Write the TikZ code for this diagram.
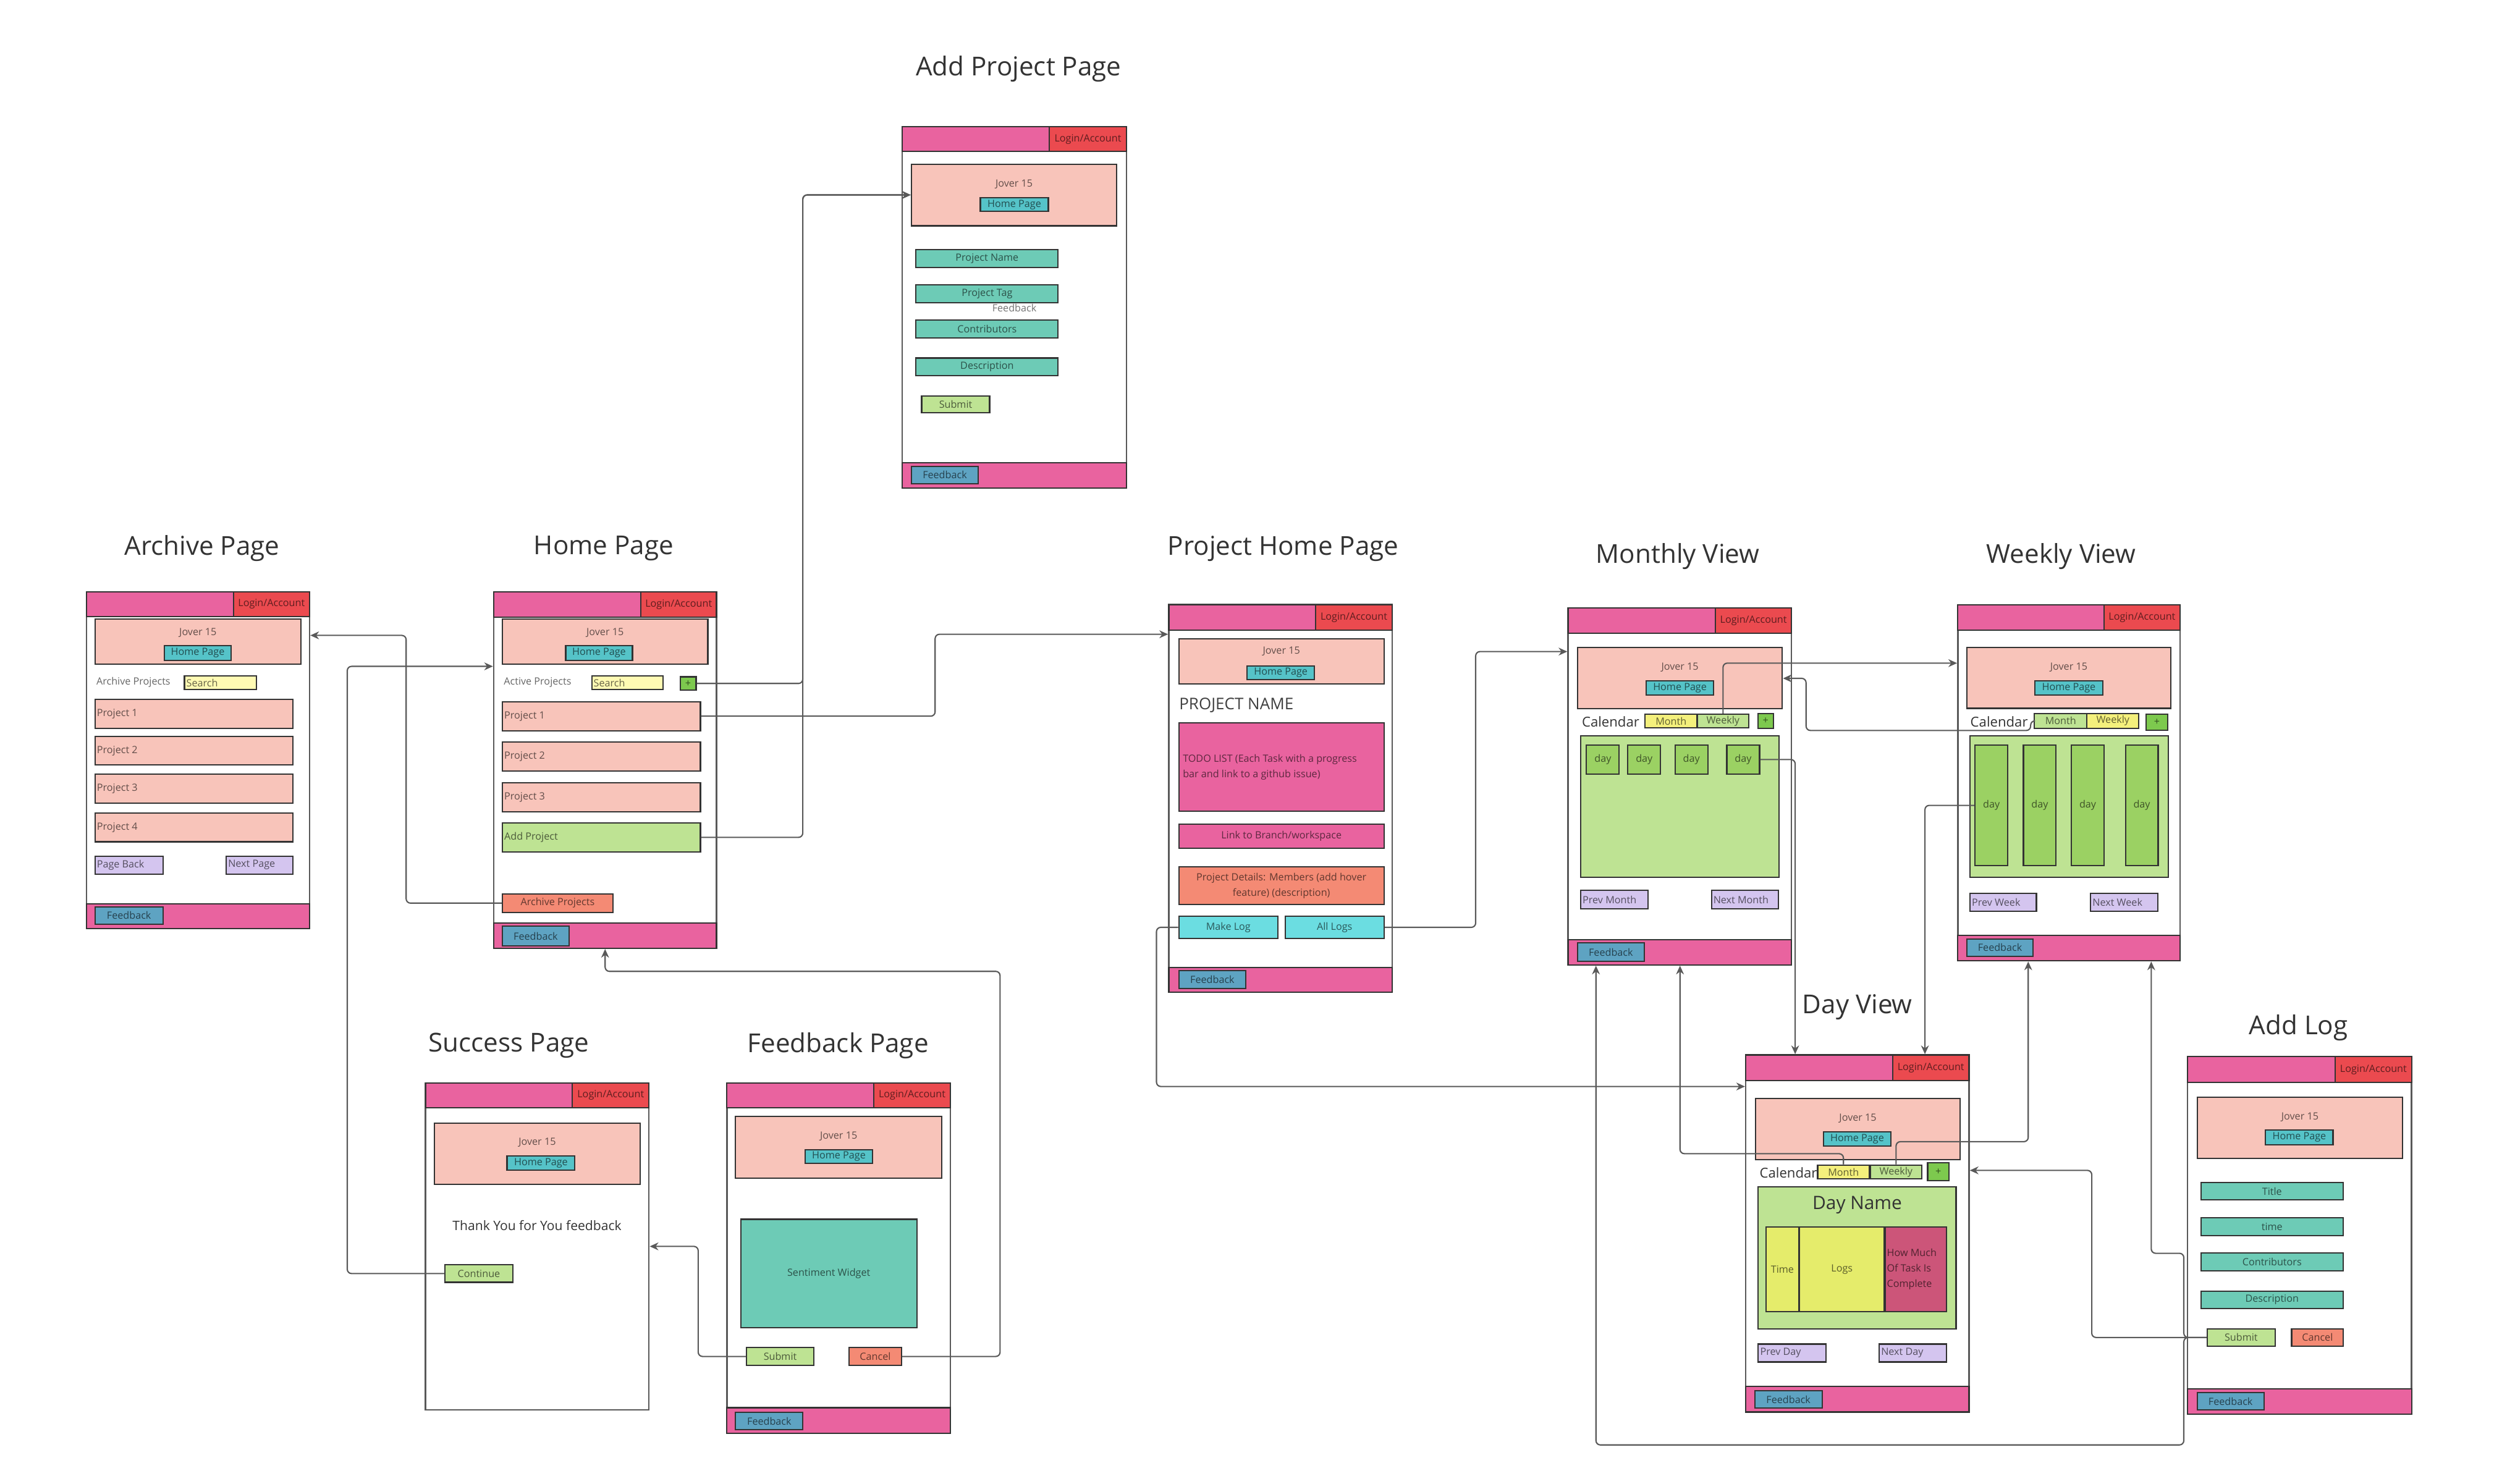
\documentclass[tikz,border=0pt]{standalone}
\usepackage{fontspec}
\setmainfont{Open Sans}
\usetikzlibrary{arrows.meta}

\definecolor{hdrpink}{HTML}{E9639F}
\definecolor{loginred}{HTML}{EB4A4F}
\definecolor{joverpink}{HTML}{F8C4BA}
\definecolor{hometeal}{HTML}{55C3C8}
\definecolor{searchyel}{HTML}{FFFAB3}
\definecolor{plusgreen}{HTML}{7DC94E}
\definecolor{lightgreen}{HTML}{BEE393}
\definecolor{coral}{HTML}{F48A74}
\definecolor{fbblue}{HTML}{5EA3C2}
\definecolor{lavender}{HTML}{D4C5EF}
\definecolor{fieldteal}{HTML}{6DCBB6}
\definecolor{logcyan}{HTML}{6BDDE1}
\definecolor{daygreen}{HTML}{9BD163}
\definecolor{monthyel}{HTML}{F4F07C}
\definecolor{logyel}{HTML}{E5EC6B}
\definecolor{rose}{HTML}{CC5579}

\tikzset{
  wh/.style 2 args={minimum width=#1*0.02596cm,minimum height=#2*0.02596cm},
  pageframe/.style={draw=black!65,line width=0.7pt,fill=white,inner sep=0pt},
  uibox/.style={draw=black!80,line width=0.6pt,inner sep=0pt,
    font=\fontsize{4.6}{5.5}\selectfont,text=black,text opacity=0.6},
  uitext/.style={inner sep=1pt,font=\fontsize{4.6}{5.5}\selectfont,text=black,text opacity=0.6},
  pagetitle/.style={font=\fontsize{12}{14}\selectfont,text=black!80},
  caltext/.style={inner sep=0pt,font=\fontsize{6.3}{7}\selectfont,text=black!80},
  link/.style={->,draw=black!65,line width=0.6pt,rounded corners=2pt},
  >={Stealth[length=4pt,width=3.6pt]}
}

\begin{document}
\begin{tikzpicture}[x=0.02596cm,y=-0.02596cm]
\useasboundingbox (0,0) rectangle (1568,925);

% Archive Page
\node[pagetitle] at (126,342) {Archive Page};
\node[pageframe,wh={139}{210}] (arFrame) at (123.5,474) {};
\node[uibox,fill=hdrpink,wh={139}{15.5}] (arHead) at (123.5,376.75) {};
\node[uibox,fill=loginred,wh={47.5}{15.5}] (arLogin) at (169.25,376.75) {Login/Account};
\node[uibox,fill=joverpink,wh={128.4}{28.3}] (arJover) at (123.4,400.15) {};
\node[uitext] at (123.4,394.5) {Jover 15};
\node[uibox,fill=hometeal,wh={41.6}{9}] (arHome) at (123.3,407.2) {Home Page};
\node[uitext,anchor=west] at (58.5,425.6) {Archive Projects};
\node[uibox,fill=searchyel,wh={45}{8.8}] (arSearch) at (137.5,425.7) {};
\node[uitext,anchor=west] at (arSearch.west) {Search};
\foreach \i/\y in {1/445.2,2/468.1,3/491.8,4/515.9}{
  \node[uibox,fill=joverpink,wh={123.5}{18}] (arP\i) at (121,\y) {};
  \node[uitext,anchor=west] at (arP\i.west) {Project \i};
}
\node[uibox,fill=lavender,wh={42.4}{11.2}] (arBack) at (80.4,539.4) {};
\node[uitext,anchor=west] at (arBack.west) {Page Back};
\node[uibox,fill=lavender,wh={41.7}{11.2}] (arNext) at (161.9,539.4) {};
\node[uitext,anchor=west] at (arNext.west) {Next Page};
\node[uibox,fill=hdrpink,wh={139}{15.4}] (arFoot) at (123.5,571.3) {};
\node[uibox,fill=fbblue,wh={42.4}{10.7}] (arFb) at (80.4,570.9) {Feedback};

% Home Page
\node[pagetitle] at (376.4,342) {Home Page};
\node[pageframe,wh={138.9}{222.3}] (hmFrame) at (377.25,480.15) {};
\node[uibox,fill=hdrpink,wh={138.9}{15.7}] (hmHead) at (377.25,376.85) {};
\node[uibox,fill=loginred,wh={47.2}{15.7}] (hmLogin) at (423.1,376.85) {Login/Account};
\node[uibox,fill=joverpink,wh={128.1}{28.3}] (hmJover) at (377.25,400.15) {};
\node[uitext] at (377.25,394.5) {Jover 15};
\node[uibox,fill=hometeal,wh={41.6}{9}] (hmHome) at (373.5,407.2) {Home Page};
\node[uitext,anchor=west] at (312.5,425.6) {Active Projects};
\node[uibox,fill=searchyel,wh={44.6}{8.8}] (hmSearch) at (391.2,425.7) {};
\node[uitext,anchor=west] at (hmSearch.west) {Search};
\node[uibox,fill=plusgreen,wh={10}{8.3}] (hmPlus) at (429,426.2) {+};
\foreach \i/\y in {1/446.55,2/471.65,3/497.15}{
  \node[uibox,fill=joverpink,wh={123.5}{18.1}] (hmP\i) at (374.95,\y) {};
  \node[uitext,anchor=west] at (hmP\i.west) {Project \i};
}
\node[uibox,fill=lightgreen,wh={123.5}{18.1}] (hmAdd) at (374.95,522.15) {};
\node[uitext,anchor=west] at (hmAdd.west) {Add Project};
\node[uibox,fill=coral,wh={68.9}{11.5}] (hmArch) at (347.65,563.15) {Archive Projects};
\node[uibox,fill=hdrpink,wh={138.9}{15.7}] (hmFoot) at (377.25,583.45) {};
\node[uibox,fill=fbblue,wh={41.6}{12.1}] (hmFb) at (334,583.65) {Feedback};

% Add Project Page
\node[pagetitle] at (635,43) {Add Project Page};
\node[pageframe,wh={140}{225.2}] (apFrame) at (632.4,191.7) {};
\node[uibox,fill=hdrpink,wh={140}{15.4}] (apHead) at (632.4,86.8) {};
\node[uibox,fill=loginred,wh={48.3}{15.4}] (apLogin) at (678.25,86.8) {Login/Account};
\node[uibox,fill=joverpink,wh={128.1}{38.5}] (apJover) at (632.25,121.55) {};
\node[uitext] at (632.25,114.9) {Jover 15};
\node[uibox,fill=hometeal,wh={42.4}{8.6}] (apHome) at (632.4,127.6) {Home Page};
\foreach \n/\t/\y in {Name/Project Name/161.15,Tag/Project Tag/183.15,Contrib/Contributors/205.15,Desc/Description/228.75}
  \node[uibox,fill=fieldteal,wh={88.6}{11}] (ap\n) at (615.4,\y) {\t};
\node[uitext,text=black!55,text opacity=1] at (632.4,192) {Feedback};
\node[uibox,fill=lightgreen,wh={42.4}{10.6}] (apSubmit) at (595.8,252.2) {Submit};
\node[uibox,fill=hdrpink,wh={140}{15.8}] (apFoot) at (632.4,296.4) {};
\node[uibox,fill=fbblue,wh={41.7}{10.6}] (apFb) at (589.05,296.2) {Feedback};

% Project Home Page
\node[pagetitle] at (800,342) {Project Home Page};
\node[pageframe,wh={139.3}{241.7}] (phFrame) at (798.35,497.85) {};
\node[uibox,fill=hdrpink,wh={139.3}{15.8}] (phHead) at (798.35,384.9) {};
\node[uibox,fill=loginred,wh={47.8}{15.8}] (phLogin) at (844.1,384.9) {Login/Account};
\node[uibox,fill=joverpink,wh={128}{28.4}] (phJover) at (798.9,412.4) {};
\node[uitext] at (798.9,406.3) {Jover 15};
\node[uibox,fill=hometeal,wh={42}{8.5}] (phHome) at (798.5,419.45) {Home Page};
\node[anchor=west,inner sep=0pt,font=\fontsize{7.4}{8}\selectfont,text=black!75] (phName) at (734.9,439.9) {PROJECT NAME};
\node[uibox,fill=hdrpink,wh={128}{55.4}] (phTodo) at (798.9,478.3) {};
\node[uitext,anchor=west,align=left,font=\fontsize{4.6}{7.1}\selectfont] at ([xshift=1pt]phTodo.west) {TODO LIST (Each Task with a progress\\bar and link to a github issue)};
\node[uibox,fill=hdrpink,wh={128}{15.2}] (phLink) at (798.9,521.4) {Link to Branch/workspace};
\node[uibox,fill=coral,wh={128}{23.7},align=center,font=\fontsize{4.6}{7.1}\selectfont] (phDetails) at (798.9,552.25) {Project Details: Members (add hover\\feature) (description)};
\node[uibox,fill=logcyan,wh={61.8}{13.7}] (phMake) at (765.8,578.25) {Make Log};
\node[uibox,fill=logcyan,wh={61.7}{13.7}] (phAll) at (832.05,578.25) {All Logs};
\node[uibox,fill=hdrpink,wh={139.3}{15.5}] (phFoot) at (798.35,610.95) {};
\node[uibox,fill=fbblue,wh={41.9}{11}] (phFb) at (755.85,610.8) {Feedback};

% Monthly View
\node[pagetitle] at (1046,347) {Monthly View};
\node[pageframe,wh={139.2}{222.5}] (mvFrame) at (1047.2,490.45) {};
\node[uibox,fill=hdrpink,wh={139.2}{15.8}] (mvHead) at (1047.2,387.1) {};
\node[uibox,fill=loginred,wh={47.2}{15.8}] (mvLogin) at (1093.2,387.1) {Login/Account};
\node[uibox,fill=joverpink,wh={127.7}{38.2}] (mvJover) at (1047.35,422.7) {};
\node[uitext] at (1047.35,416.2) {Jover 15};
\node[uibox,fill=hometeal,wh={41.9}{9.1}] (mvHome) at (1047.35,428.95) {Home Page};
\node[caltext,anchor=west] at (986,450) {Calendar};
\node[uibox,fill=monthyel,wh={32.5}{8.6}] (mvMonth) at (1041.85,449.6) {Month};
\node[uibox,fill=lightgreen,wh={32.2}{8.6}] (mvWeekly) at (1074.2,449.6) {Weekly};
\node[uibox,fill=plusgreen,wh={9.7}{9.2}] (mvPlus) at (1100.75,449.6) {+};
\node[uibox,fill=lightgreen,wh={123.7}{88}] (mvCal) at (1047.35,503) {};
\foreach \i/\x in {1/999.3,2/1025.1,3/1054.5,4/1086.8}
  \node[uibox,fill=daygreen,wh={20.4}{18.2}] (mvDay\i) at (\x,473.6) {day};
\node[uibox,fill=lavender,wh={41.9}{11.4}] (mvPrev) at (1006.45,561) {};
\node[uitext,anchor=west] at (mvPrev.west) {Prev Month};
\node[uibox,fill=lavender,wh={41.9}{11.4}] (mvNext) at (1087.95,561) {};
\node[uitext,anchor=west] at (mvNext.west) {Next Month};
\node[uibox,fill=hdrpink,wh={139.2}{15.7}] (mvFoot) at (1047.2,593.85) {};
\node[uibox,fill=fbblue,wh={41.6}{11.5}] (mvFb) at (1004.3,593.65) {Feedback};

% Weekly View
\node[pagetitle] at (1285,347) {Weekly View};
\node[pageframe,wh={138.5}{221.9}] (wvFrame) at (1289.85,488.15) {};
\node[uibox,fill=hdrpink,wh={138.5}{15.6}] (wvHead) at (1289.85,385) {};
\node[uibox,fill=loginred,wh={47.3}{15.6}] (wvLogin) at (1335.45,385) {Login/Account};
\node[uibox,fill=joverpink,wh={127.2}{38.1}] (wvJover) at (1289.8,422.65) {};
\node[uitext] at (1289.8,416.2) {Jover 15};
\node[uibox,fill=hometeal,wh={42.4}{9.1}] (wvHome) at (1289.8,428.95) {Home Page};
\node[caltext,anchor=west] at (1228.2,450) {Calendar};
\node[uibox,fill=lightgreen,wh={32.7}{9.4}] (wvMonth) at (1284.75,449.5) {Month};
\node[uibox,fill=monthyel,wh={32.4}{9.4}] (wvWeekly) at (1317.3,449.5) {Weekly};
\node[uibox,fill=plusgreen,wh={13.3}{10.2}] (wvPlus) at (1344.75,450.4) {+};
\node[uibox,fill=lightgreen,wh={123.7}{88}] (wvCal) at (1290.05,503) {};
\foreach \i/\x in {1/1241.55,2/1271.7,3/1301.6,4/1335.3}
  \node[uibox,fill=daygreen,wh={20.4}{75.4}] (wvDay\i) at (\x,502.2) {day};
\node[uibox,fill=lavender,wh={41.4}{11.3}] (wvPrev) at (1248.9,562.55) {};
\node[uitext,anchor=west] at (wvPrev.west) {Prev Week};
\node[uibox,fill=lavender,wh={41.9}{11.3}] (wvNext) at (1324.35,562.55) {};
\node[uitext,anchor=west] at (wvNext.west) {Next Week};
\node[uibox,fill=hdrpink,wh={138.5}{15.8}] (wvFoot) at (1289.85,591.2) {};
\node[uibox,fill=fbblue,wh={41.4}{10.7}] (wvFb) at (1246.9,590.85) {Feedback};

% Day View
\node[pagetitle] at (1158,628) {Day View};
\node[pageframe,wh={139.2}{222.7}] (dvFrame) at (1158,769.15) {};
\node[uibox,fill=hdrpink,wh={139.2}{16}] (dvHead) at (1158,665.8) {};
\node[uibox,fill=loginred,wh={47.6}{16}] (dvLogin) at (1203.8,665.8) {Login/Account};
\node[uibox,fill=joverpink,wh={127.4}{38.1}] (dvJover) at (1158.3,704.05) {};
\node[uitext] at (1158.3,697.5) {Jover 15};
\node[uibox,fill=hometeal,wh={42}{8.8}] (dvHome) at (1157.9,710.3) {Home Page};
\node[caltext,anchor=west] at (1096.8,731.1) {Calendar};
\node[uibox,fill=monthyel,wh={32.2}{8.7}] (dvMonth) at (1149.3,730.85) {Month};
\node[uibox,fill=lightgreen,wh={32.2}{8.7}] (dvWeekly) at (1182.1,730.85) {Weekly};
\node[uibox,fill=plusgreen,wh={13.2}{11}] (dvPlus) at (1208.4,730.7) {+};
\node[uibox,fill=lightgreen,wh={123.3}{88.5}] (dvCal) at (1157.85,784.35) {};
\node[inner sep=0pt,font=\fontsize{8.5}{9}\selectfont,text=black!80] (dvName) at (1157.9,751.5) {Day Name};
\node[uibox,fill=logyel,wh={20.5}{52.8}] (dvTime) at (1111.25,791.5) {Time};
\node[uibox,fill=logyel,wh={52.7}{52.8}] (dvLogs) at (1148.35,791.5) {Logs};
\node[uibox,fill=rose,wh={38.4}{52.8}] (dvDone) at (1194.4,791.5) {};
\node[uitext,anchor=west,align=left,font=\fontsize{4.6}{7.1}\selectfont] at (dvDone.west) {How Much\\Of Task Is\\Complete};
\node[uibox,fill=lavender,wh={42.1}{11.2}] (dvPrev) at (1117.25,843.7) {};
\node[uitext,anchor=west] at (dvPrev.west) {Prev Day};
\node[uibox,fill=lavender,wh={42}{11.2}] (dvNext) at (1192.6,843.7) {};
\node[uitext,anchor=west] at (dvNext.west) {Next Day};
\node[uibox,fill=hdrpink,wh={139.2}{15.9}] (dvFoot) at (1158,872.55) {};
\node[uibox,fill=fbblue,wh={42}{11}] (dvFb) at (1115,872.6) {Feedback};

% Add Log
\node[pagetitle] at (1433,641) {Add Log};
\node[pageframe,wh={139.8}{222.9}] (alFrame) at (1433.6,770.35) {};
\node[uibox,fill=hdrpink,wh={139.8}{16.2}] (alHead) at (1433.6,667) {};
\node[uibox,fill=loginred,wh={47.6}{16.2}] (alLogin) at (1479.7,667) {Login/Account};
\node[uibox,fill=joverpink,wh={128}{38.3}] (alJover) at (1433.9,703.25) {};
\node[uitext] at (1433.9,696.6) {Jover 15};
\node[uibox,fill=hometeal,wh={42}{9.2}] (alHome) at (1433.5,709.2) {Home Page};
\foreach \n/\t/\y in {Title/Title/742.8,Time/time/764.9,Contrib/Contributors/786.9,Desc/Description/810.5}
  \node[uibox,fill=fieldteal,wh={88.8}{11}] (al\n) at (1416.5,\y) {\t};
\node[uibox,fill=lightgreen,wh={42.3}{10.8}] (alSubmit) at (1397.25,834) {Submit};
\node[uibox,fill=coral,wh={32.3}{10.8}] (alCancel) at (1444.85,834) {Cancel};
\node[uibox,fill=hdrpink,wh={139.8}{15.9}] (alFoot) at (1433.6,873.85) {};
\node[uibox,fill=fbblue,wh={41.5}{10.8}] (alFb) at (1390.65,873.8) {Feedback};

% Success Page
\node[pagetitle] at (317.3,652) {Success Page};
\node[pageframe,wh={139.3}{203.8}] (spFrame) at (334.95,777.2) {};
\node[uibox,fill=hdrpink,wh={139.3}{15.3}] (spHead) at (334.95,682.95) {};
\node[uibox,fill=loginred,wh={47.7}{15.3}] (spLogin) at (380.75,682.95) {Login/Account};
\node[uibox,fill=joverpink,wh={128.5}{38}] (spJover) at (334.95,719.5) {};
\node[uitext] at (334.95,712.6) {Jover 15};
\node[uibox,fill=hometeal,wh={42.3}{9}] (spHome) at (337.25,725.2) {Home Page};
\node[inner sep=0pt,font=\fontsize{6}{7}\selectfont,text=black!80] (spThanks) at (334.8,764.2) {Thank You for You feedback};
\node[uibox,fill=lightgreen,wh={42.1}{10.9}] (spCont) at (298.55,794.15) {Continue};

% Feedback Page
\node[pagetitle] at (522.5,652) {Feedback Page};
\node[pageframe,wh={139.3}{218.4}] (fpFrame) at (522.85,784.5) {};
\node[uibox,fill=hdrpink,wh={139.3}{15.3}] (fpHead) at (522.85,682.95) {};
\node[uibox,fill=loginred,wh={47.7}{15.3}] (fpLogin) at (568.65,682.95) {Login/Account};
\node[uibox,fill=joverpink,wh={128.5}{38.4}] (fpJover) at (522.85,715.3) {};
\node[uitext] at (522.85,708.6) {Jover 15};
\node[uibox,fill=hometeal,wh={42.2}{8.7}] (fpHome) at (523,721.15) {Home Page};
\node[uibox,fill=fieldteal,wh={109.8}{67.7}] (fpWidget) at (516.7,794.15) {Sentiment Widget};
\node[uibox,fill=lightgreen,wh={41.8}{10.9}] (fpSubmit) at (486.4,845.85) {Submit};
\node[uibox,fill=coral,wh={32.6}{10.9}] (fpCancel) at (545.7,845.85) {Cancel};
\node[uibox,fill=hdrpink,wh={139.3}{15.9}] (fpFoot) at (522.85,885.75) {};
\node[uibox,fill=fbblue,wh={42}{10.9}] (fpFb) at (479.6,886.15) {Feedback};

% links between pages
\draw[link] (hmArch.west) -| (253.2,396.2) -- (arFrame.east |- 0,396.2);
\draw[link] (spCont.west) -| (216.5,415.5) -- (hmFrame.west |- 0,415.5);
\draw[link] (hmPlus.east) -| (500.5,121.55) -- (apJover.west);
\draw[link] (hmAdd.east) -| (500.5,121.55) -- (apJover.west);
\draw[link] (hmP1.east) -| (583,395.5) -- (phFrame.west |- 0,395.5);
\draw[link] (phMake.west) -| (721,677.5) -- (dvFrame.west |- 0,677.5);
\draw[link] (phAll.east) -| (920,406.3) -- (mvFrame.west |- 0,406.3);
\draw[link] (mvWeekly.north) |- (wvFrame.west |- 0,413.5);
\draw[link] (wvMonth.west) -- (1266,449.5) |- (1126,455.5) |- (mvJover.east |- 0,423);
\draw[link] (mvDay4.east) -| (1119.2,0 |- dvFrame.north);
\draw[link] (wvDay1.west) -| (1200.1,0 |- dvFrame.north);
\draw[link] (dvMonth.north) |- (1047.4,719.4) -- (1047.4,0 |- mvFrame.south);
\draw[link] (dvWeekly.north) |- (1264.5,711.9) -- (1264.5,0 |- wvFrame.south);
\draw[link] (alSubmit.west) -| (1304.1,729.8) -- (dvFrame.east |- 0,729.8);
\draw[link] (alSubmit.west) -| (1361.5,781.5) -| (1341.2,0 |- wvFrame.south);
\draw[link] (alSubmit.west) -| (1361.5,901) -| (995,0 |- mvFrame.south);
\draw[link] (fpSubmit.west) -| (435.3,777.2) -- (spFrame.east |- 0,777.2);
\draw[link] (fpCancel.east) -| (623.5,605.7) -| (hmFrame.south);
\end{tikzpicture}
\end{document}
